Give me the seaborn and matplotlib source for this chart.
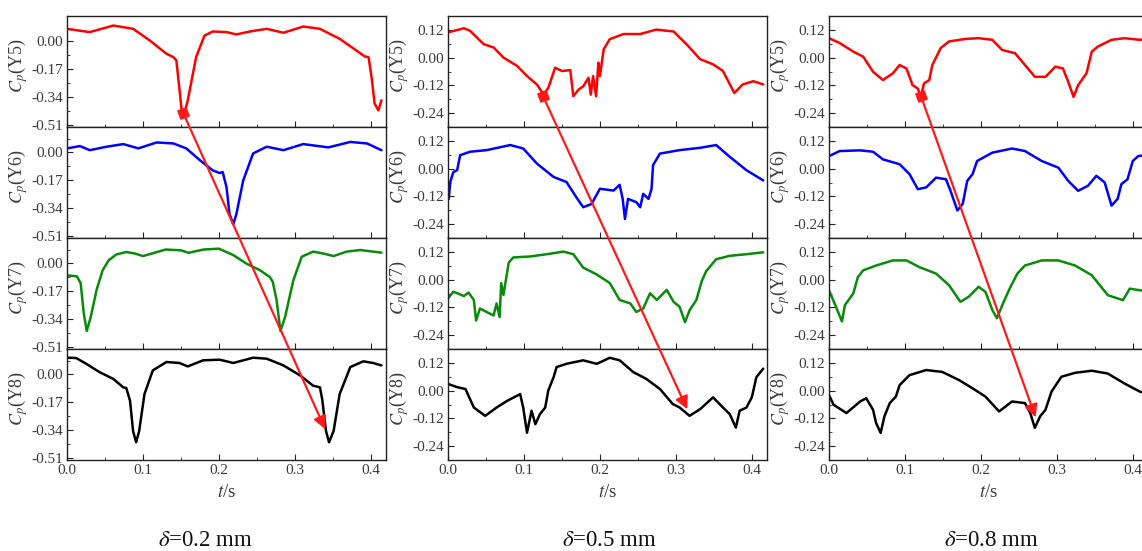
import matplotlib
matplotlib.use('Agg')
import matplotlib.pyplot as plt
from matplotlib.patches import ConnectionPatch
from matplotlib.ticker import MultipleLocator
import seaborn as sns

# ---- delta = 0.2 mm ----
t2_y5 = [0.000, 0.030, 0.061, 0.087, 0.109, 0.131, 0.140, 0.144, 0.151, 0.154, 0.159, 0.170, 0.181, 0.192,
         0.210, 0.223, 0.241, 0.263, 0.285, 0.311, 0.333, 0.359, 0.381, 0.392, 0.397, 0.401, 0.405, 0.410, 0.414]
cp2_y5 = [0.077, 0.057, 0.097, 0.077, 0.006, -0.075, -0.095, -0.115, -0.419, -0.449, -0.358, -0.095, 0.036, 0.061,
          0.057, 0.043, 0.061, 0.077, 0.053, 0.091, 0.077, 0.016, -0.055, -0.091, -0.095, -0.217, -0.378, -0.419, -0.358]
t2_y6 = [0.000, 0.017, 0.030, 0.052, 0.074, 0.094, 0.118, 0.140, 0.157, 0.175, 0.192, 0.201, 0.205, 0.210, 0.214,
         0.219, 0.223, 0.232, 0.245, 0.263, 0.285, 0.311, 0.344, 0.373, 0.395, 0.414]
cp2_y6 = [0.025, 0.039, 0.014, 0.035, 0.051, 0.025, 0.061, 0.055, 0.025, -0.047, -0.109, -0.125, -0.119, -0.211, -0.375,
          -0.436, -0.375, -0.170, -0.006, 0.035, 0.014, 0.051, 0.031, 0.064, 0.055, 0.014]
t2_y7 = [0.000, 0.013, 0.018, 0.022, 0.026, 0.031, 0.039, 0.047, 0.055, 0.065, 0.078, 0.090, 0.100, 0.115, 0.130,
         0.150, 0.160, 0.180, 0.200, 0.219, 0.236, 0.254, 0.267, 0.271, 0.276, 0.281, 0.287, 0.298, 0.309, 0.324,
         0.337, 0.351, 0.368, 0.386, 0.414]
cp2_y7 = [-0.072, -0.078, -0.120, -0.300, -0.410, -0.330, -0.160, -0.040, 0.020, 0.055, 0.070, 0.060, 0.045, 0.065, 0.085,
          0.080, 0.065, 0.085, 0.090, 0.051, 0.000, -0.041, -0.082, -0.113, -0.225, -0.410, -0.328, -0.102, 0.041, 0.072,
          0.061, 0.045, 0.072, 0.082, 0.066]
t2_y8 = [0.000, 0.012, 0.025, 0.043, 0.061, 0.074, 0.078, 0.083, 0.087, 0.091, 0.095, 0.102, 0.113, 0.131, 0.148,
         0.159, 0.179, 0.201, 0.219, 0.245, 0.263, 0.285, 0.307, 0.324, 0.333, 0.336, 0.341, 0.345, 0.351, 0.359,
         0.373, 0.390, 0.403, 0.414]
cp2_y8 = [0.102, 0.100, 0.066, 0.014, -0.027, -0.078, -0.082, -0.160, -0.344, -0.412, -0.344, -0.119, 0.025, 0.076, 0.070,
          0.049, 0.086, 0.090, 0.070, 0.102, 0.096, 0.055, -0.006, -0.068, -0.078, -0.150, -0.344, -0.412, -0.344, -0.119,
          0.045, 0.080, 0.070, 0.055]

# ---- delta = 0.5 mm ----
t5_y5 = [0.000, 0.021, 0.029, 0.047, 0.060, 0.073, 0.091, 0.104, 0.117, 0.126, 0.132, 0.141, 0.150, 0.161, 0.165,
         0.172, 0.178, 0.185, 0.188, 0.191, 0.195, 0.198, 0.200, 0.205, 0.213, 0.231, 0.253, 0.274, 0.297, 0.314,
         0.332, 0.349, 0.362, 0.377, 0.388, 0.402, 0.415]
cp5_y5 = [0.109, 0.127, 0.116, 0.058, 0.044, 0.000, -0.036, -0.080, -0.116, -0.160, -0.131, -0.044, -0.058, -0.054, -0.167,
          -0.138, -0.124, -0.087, -0.160, -0.080, -0.167, -0.022, -0.080, 0.036, 0.080, 0.102, 0.102, 0.121, 0.113, 0.058,
          -0.007, -0.029, -0.058, -0.153, -0.116, -0.102, -0.116]
t5_y6 = [0.001, 0.003, 0.007, 0.012, 0.016, 0.029, 0.051, 0.082, 0.099, 0.117, 0.139, 0.156, 0.169, 0.178, 0.189,
         0.200, 0.218, 0.226, 0.230, 0.233, 0.237, 0.248, 0.253, 0.257, 0.264, 0.268, 0.270, 0.279, 0.305, 0.332,
         0.353, 0.371, 0.393, 0.415]
cp5_y6 = [-0.131, -0.058, -0.015, -0.007, 0.058, 0.073, 0.080, 0.102, 0.087, 0.022, -0.036, -0.058, -0.124, -0.167, -0.153,
          -0.087, -0.095, -0.070, -0.131, -0.218, -0.131, -0.145, -0.167, -0.109, -0.131, -0.087, 0.015, 0.065, 0.080, 0.090,
          0.102, 0.051, -0.007, -0.051]
t5_y7 = [0.000, 0.007, 0.021, 0.027, 0.034, 0.037, 0.042, 0.051, 0.060, 0.064, 0.068, 0.070, 0.073, 0.080, 0.086,
         0.108, 0.130, 0.152, 0.165, 0.178, 0.196, 0.213, 0.226, 0.240, 0.248, 0.257, 0.266, 0.275, 0.288, 0.297,
         0.305, 0.312, 0.318, 0.327, 0.334, 0.340, 0.353, 0.371, 0.393, 0.415]
cp5_y7 = [-0.081, -0.052, -0.071, -0.056, -0.088, -0.177, -0.125, -0.140, -0.155, -0.103, -0.162, -0.015, -0.066, 0.074, 0.096,
          0.100, 0.110, 0.121, 0.110, 0.052, 0.022, -0.015, -0.088, -0.103, -0.140, -0.125, -0.059, -0.088, -0.044, -0.096,
          -0.118, -0.184, -0.133, -0.088, -0.007, 0.037, 0.088, 0.103, 0.110, 0.118]
t5_y8 = [0.000, 0.012, 0.023, 0.034, 0.049, 0.064, 0.078, 0.095, 0.099, 0.104, 0.110, 0.115, 0.121, 0.128, 0.132,
         0.139, 0.143, 0.156, 0.178, 0.196, 0.213, 0.226, 0.244, 0.261, 0.279, 0.296, 0.305, 0.318, 0.332, 0.349,
         0.362, 0.371, 0.379, 0.384, 0.393, 0.400, 0.406, 0.415]
cp5_y8 = [0.029, 0.015, 0.007, -0.073, -0.109, -0.073, -0.044, -0.015, -0.073, -0.182, -0.087, -0.145, -0.102, -0.073, 0.000,
          0.058, 0.102, 0.116, 0.131, 0.116, 0.142, 0.131, 0.080, 0.051, 0.007, -0.058, -0.073, -0.109, -0.080, -0.029,
          -0.073, -0.102, -0.160, -0.087, -0.073, -0.029, 0.058, 0.095]

# ---- delta = 0.8 mm ----
t8_y5 = [0.000, 0.014, 0.032, 0.045, 0.058, 0.071, 0.084, 0.093, 0.102, 0.110, 0.117, 0.121, 0.125, 0.132, 0.136,
         0.147, 0.158, 0.180, 0.197, 0.215, 0.228, 0.245, 0.258, 0.271, 0.285, 0.298, 0.308, 0.315, 0.322, 0.328,
         0.339, 0.346, 0.354, 0.372, 0.389, 0.409, 0.420]
cp8_y5 = [0.084, 0.063, 0.026, 0.004, -0.061, -0.097, -0.068, -0.032, -0.047, -0.119, -0.134, -0.170, -0.112, -0.097, -0.032,
          0.041, 0.070, 0.081, 0.084, 0.077, 0.033, 0.019, -0.032, -0.083, -0.083, -0.039, -0.047, -0.105, -0.170, -0.119,
          -0.068, 0.026, 0.048, 0.077, 0.084, 0.077, 0.080]
t8_y6 = [0.000, 0.014, 0.041, 0.058, 0.071, 0.093, 0.106, 0.117, 0.128, 0.141, 0.154, 0.160, 0.169, 0.176, 0.182,
         0.189, 0.195, 0.215, 0.241, 0.258, 0.280, 0.302, 0.315, 0.328, 0.341, 0.352, 0.363, 0.372, 0.380, 0.385,
         0.393, 0.400, 0.407, 0.420]
cp8_y6 = [0.054, 0.076, 0.079, 0.073, 0.040, 0.019, -0.024, -0.089, -0.081, -0.039, -0.046, -0.096, -0.181, -0.153, -0.053,
          -0.024, 0.033, 0.069, 0.087, 0.076, 0.033, 0.004, -0.053, -0.096, -0.074, -0.031, -0.060, -0.160, -0.131, -0.067,
          -0.046, 0.033, 0.054, 0.060]
t8_y7 = [0.000, 0.010, 0.017, 0.021, 0.032, 0.038, 0.045, 0.062, 0.084, 0.102, 0.119, 0.141, 0.158, 0.173, 0.184,
         0.197, 0.206, 0.215, 0.221, 0.230, 0.239, 0.248, 0.258, 0.280, 0.302, 0.324, 0.346, 0.367, 0.387, 0.396,
         0.409, 0.420]
cp8_y7 = [-0.046, -0.124, -0.181, -0.110, -0.060, 0.011, 0.040, 0.061, 0.083, 0.083, 0.054, 0.026, -0.024, -0.096, -0.074,
          -0.031, -0.053, -0.131, -0.167, -0.096, -0.031, 0.026, 0.061, 0.083, 0.083, 0.061, 0.019, -0.067, -0.089, -0.039,
          -0.046, -0.050]
t8_y8 = [0.000, 0.006, 0.023, 0.041, 0.049, 0.058, 0.062, 0.068, 0.073, 0.080, 0.088, 0.093, 0.106, 0.128, 0.149,
         0.171, 0.189, 0.206, 0.224, 0.241, 0.258, 0.265, 0.271, 0.278, 0.285, 0.293, 0.306, 0.324, 0.346, 0.367,
         0.389, 0.409, 0.420]
cp8_y8 = [-0.019, -0.061, -0.097, -0.047, -0.033, -0.083, -0.140, -0.183, -0.111, -0.054, -0.026, 0.024, 0.067, 0.089, 0.081,
          0.046, 0.010, -0.026, -0.090, -0.047, -0.054, -0.097, -0.161, -0.111, -0.083, -0.004, 0.060, 0.077, 0.086, 0.074,
          0.031, -0.004, -0.015]

# red arrows (start in Y5, end in Y8), data units
arrow_start = [(0.153, -0.435), (0.125, -0.166), (0.121, -0.166)]
arrow_end = [(0.340, -0.333), (0.315, -0.081), (0.272, -0.116)]

captions = [r'$\delta$=0.2 mm', r'$\delta$=0.5 mm', r'$\delta$=0.8 mm']
row_names = ['Y5', 'Y6', 'Y7', 'Y8']
row_colors = ['#ff0000', '#0000ff', '#0a8a0a', '#000000']

panels = [
    [(t2_y5, cp2_y5), (t2_y6, cp2_y6), (t2_y7, cp2_y7), (t2_y8, cp2_y8)],
    [(t5_y5, cp5_y5), (t5_y6, cp5_y6), (t5_y7, cp5_y7), (t5_y8, cp5_y8)],
    [(t8_y5, cp8_y5), (t8_y6, cp8_y6), (t8_y7, cp8_y7), (t8_y8, cp8_y8)],
]

sns.set_style('ticks')
plt.rcParams['font.family'] = ['Liberation Serif', 'DejaVu Serif']
plt.rcParams['mathtext.fontset'] = 'stix'
plt.rcParams['axes.unicode_minus'] = False

W, H = 1142, 551
fig = plt.figure(figsize=(W / 100, H / 100), dpi=100)

panel_left = [67, 448, 829]
panel_w = 319
row_top = [16, 127, 238, 349]
row_h = 111
caption_x = [205, 609, 991]

for p, panel in enumerate(panels):
    axes = []
    for r, (t, cp) in enumerate(panel):
        ax = fig.add_axes([panel_left[p] / W, 1 - (row_top[r] + row_h) / H, panel_w / W, row_h / H])
        sns.lineplot(x=t, y=cp, ax=ax, color=row_colors[r], linewidth=1.8, estimator=None)
        ax.set_xlim(0, 0.42)
        if p == 0:
            ax.set_ylim(-0.52, 0.155)
            ax.set_yticks([0.0, -0.17, -0.34, -0.51])
            ax.yaxis.set_minor_locator(MultipleLocator(0.085))
            ax.set_yticklabels(['0.00', '-0.17', '-0.34', '-0.51'])
        else:
            ax.set_ylim(-0.30, 0.18)
            ax.set_yticks([0.12, 0.0, -0.12, -0.24])
            ax.yaxis.set_minor_locator(MultipleLocator(0.06))
            ax.set_yticklabels(['0.12', '0.00', '-0.12', '-0.24'])
        ax.set_xticks([0.0, 0.1, 0.2, 0.3, 0.4])
        ax.xaxis.set_minor_locator(MultipleLocator(0.05))
        ax.tick_params(which='both', direction='in', labelsize=11, labelcolor='#3a3a3a', color='#222222', pad=3)
        ax.tick_params(which='major', length=4)
        ax.tick_params(which='minor', length=2.5)
        ax.set_ylabel(r'$C_p$(' + row_names[r] + ')', fontsize=13, color='#3a3a3a')
        ax.yaxis.set_label_coords(-0.115, 0.55)
        for s in ax.spines.values():
            s.set_color('#222222')
            s.set_linewidth(1.0)
        if r < 3:
            ax.tick_params(labelbottom=False)
            ax.set_xlabel('')
        else:
            ax.set_xticklabels(['0.0', '0.1', '0.2', '0.3', '0.4'])
            ax.set_xlabel(r'$t$/s', fontsize=13.5, color='#3a3a3a', labelpad=5)
        axes.append(ax)

    xa, ya = arrow_start[p]
    xb, yb = arrow_end[p]
    con = ConnectionPatch(xyA=(xa, ya), coordsA=axes[0].transData,
                          xyB=(xb, yb), coordsB=axes[3].transData,
                          arrowstyle='-|>', color='#ff1a1a', lw=1.6, mutation_scale=19,
                          shrinkA=0, shrinkB=0, zorder=10)
    fig.add_artist(con)
    axes[0].plot([xa], [ya], marker=(4, 0, 65), markersize=9, color='#ff1a1a', clip_on=False, zorder=10)

    fig.text(caption_x[p] / W, 1 - 541 / H, captions[p], ha='center', va='center', fontsize=16.5, color='#111111')

fig.savefig('out.png', dpi=100)
